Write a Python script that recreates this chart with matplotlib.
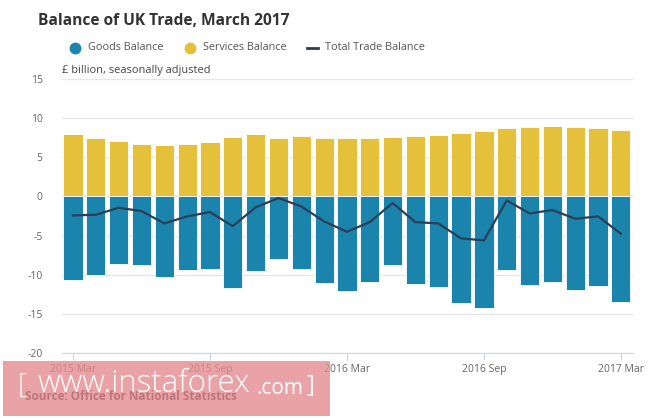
import numpy as np
import matplotlib.pyplot as plt
from matplotlib.patches import Rectangle

plt.rcParams['font.family'] = ['Open Sans', 'DejaVu Sans']

months = ['2015 Mar', '2015 Apr', '2015 May', '2015 Jun', '2015 Jul', '2015 Aug',
          '2015 Sep', '2015 Oct', '2015 Nov', '2015 Dec', '2016 Jan', '2016 Feb',
          '2016 Mar', '2016 Apr', '2016 May', '2016 Jun', '2016 Jul', '2016 Aug',
          '2016 Sep', '2016 Oct', '2016 Nov', '2016 Dec', '2017 Jan', '2017 Feb',
          '2017 Mar']
services = [7.98, 7.44, 7.06, 6.72, 6.60, 6.72, 6.93, 7.65, 7.98, 7.52, 7.73, 7.52,
            7.44, 7.52, 7.65, 7.73, 7.86, 8.11, 8.32, 8.70, 8.91, 9.03, 8.91, 8.78, 8.45]
goods = [-10.64, -10.04, -8.60, -8.77, -10.30, -9.45, -9.23, -11.70, -9.57, -8.04,
         -9.23, -11.11, -12.13, -10.98, -8.77, -11.23, -11.57, -13.66, -14.26, -9.45,
         -11.32, -10.98, -12.00, -11.45, -13.53]
total = [-2.43, -2.34, -1.45, -1.87, -3.45, -2.55, -2.00, -3.79, -1.40, -0.21,
         -1.28, -3.19, -4.51, -3.28, -0.85, -3.28, -3.45, -5.36, -5.62, -0.51,
         -2.17, -1.74, -2.85, -2.55, -4.77]
yticks = [15, 10, 5, 0, -5, -10, -15, -20]

blue = '#1b84ad'
yellow = '#e5c13b'
navy = '#2c3e55'

fig = plt.figure(figsize=(6.65, 4.18), dpi=100)
ax = fig.add_axes([62/665, 1-353/418, (633-62)/665, (353-79)/418])

x = np.arange(len(months))
ax.bar(x, services, width=0.84, color=yellow, edgecolor='white', linewidth=0.6, zorder=2)
ax.bar(x, goods, width=0.84, color=blue, edgecolor='white', linewidth=0.6, zorder=2)
ax.plot(x, total, color=navy, linewidth=1.6, zorder=3)

ax.set_xlim(-0.48, 24.53)
ax.set_ylim(-20, 15)
ax.set_yticks(yticks)
ax.set_yticklabels([str(v) for v in yticks])
ax.yaxis.grid(True, color='#e6e6e6', linewidth=1, zorder=0)
ax.set_axisbelow(True)
ticks = list(range(0, 25, 6))
ax.set_xticks(ticks)
ax.set_xticklabels([months[i] for i in ticks])
ax.tick_params(axis='y', length=0, labelsize=7.5, colors='#666666', pad=14)
ax.tick_params(axis='x', length=5, color='#ccd6eb', labelsize=7.5, labelcolor='#666666', pad=3)
for s in ['top', 'right', 'left']:
    ax.spines[s].set_visible(False)
ax.spines['bottom'].set_color('#ccd6eb')

fig.text(38/665, 1-21/418, 'Balance of UK Trade, March 2017', fontsize=11.2,
         fontweight='bold', color='#333333', va='center')
fig.text(62/665, 1-71/418, '£ billion, seasonally adjusted', fontsize=7.9,
         color='#444444', va='center')

# legend
ly = 1-48/418
fig.lines.append(plt.Line2D([75/665], [ly], marker='o', markersize=7.5, color=blue,
                            transform=fig.transFigure))
fig.text(88/665, ly, 'Goods Balance', fontsize=7.8, color='#555555', va='center')
fig.lines.append(plt.Line2D([190/665], [ly], marker='o', markersize=7.5, color=yellow,
                            transform=fig.transFigure))
fig.text(203/665, ly, 'Services Balance', fontsize=7.8, color='#555555', va='center')
fig.lines.append(plt.Line2D([307/665, 318/665], [ly, ly], color=navy, linewidth=2,
                            transform=fig.transFigure))
fig.text(325/665, ly, 'Total Trade Balance', fontsize=7.8, color='#555555', va='center')

fig.text(25/665, 1-397/418, 'Source: Office for National Statistics', fontsize=8.5,
         fontweight='bold', color='#333333', va='center')

# watermark overlay
fig.patches.append(Rectangle((3/665, 1-416/418), 327/665, 55/418, transform=fig.transFigure,
                             facecolor='#e48a8f', alpha=0.78, edgecolor='none', zorder=5))
fig.text(18/665, 1-386/418, '[', fontsize=20, color='white', va='center', zorder=6,
         fontweight='light')
fig.text(38/665, 1-384/418, 'www.instaforex', fontsize=22.5, color='white', va='center',
         zorder=6, fontweight='light')
fig.text(256/665, 1-389/418, '.com', fontsize=15, color='white', va='center', zorder=6)
fig.text(306/665, 1-386/418, ']', fontsize=17, color='white', va='center', zorder=6)

fig.savefig('out.png', dpi=100, facecolor='white')
